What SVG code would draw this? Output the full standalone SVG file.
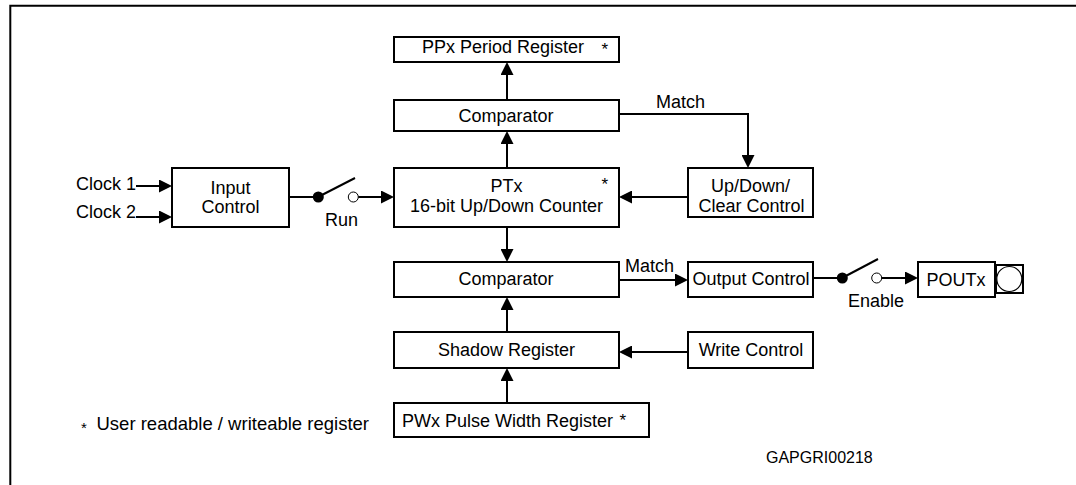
<svg xmlns="http://www.w3.org/2000/svg" width="1076" height="485" viewBox="0 0 1076 485">
<defs>
<style>
.box{fill:#fff;stroke:#000;stroke-width:2}
.ln{fill:none;stroke:#000;stroke-width:2}
.t{font-family:"Liberation Sans",Arial,sans-serif;font-size:18px;fill:#000}
.c{text-anchor:middle}
.s{font-family:"Liberation Sans",Arial,sans-serif;font-size:17px;fill:#000}
</style>
<marker id="ah" markerUnits="userSpaceOnUse" markerWidth="13" markerHeight="13" refX="9" refY="6.5" orient="auto">
<path d="M0,0 L13,6.5 L0,13 z" fill="#000"/>
</marker>
</defs>
<rect width="1076" height="485" fill="#fff"/>
<path d="M10.3,485 V5.7 H1076" fill="none" stroke="#000" stroke-width="2"/>

<g id="connectors">
<path class="ln" d="M507,100 V66" marker-end="url(#ah)"/>
<path class="ln" d="M507,168 V135" marker-end="url(#ah)"/>
<path class="ln" d="M619,114 H748 V164" marker-end="url(#ah)"/>
<path class="ln" d="M688,197 H623" marker-end="url(#ah)"/>
<path class="ln" d="M136,186 H168" marker-end="url(#ah)"/>
<path class="ln" d="M136,217 H168" marker-end="url(#ah)"/>
<path class="ln" d="M289,197 H318"/>
<path class="ln" d="M318,197 L355,178" stroke-width="2.5"/>
<circle cx="318.3" cy="197" r="5.5" fill="#000"/>
<circle cx="353.3" cy="197" r="5" fill="#fff" stroke="#000" stroke-width="1"/>
<path class="ln" d="M358.3,197 H390" marker-end="url(#ah)"/>
<path class="ln" d="M507,227 V258" marker-end="url(#ah)"/>
<path class="ln" d="M619,280 H684" marker-end="url(#ah)"/>
<path class="ln" d="M813,278 H842"/>
<path class="ln" d="M842,278 L878,259" stroke-width="2.5"/>
<circle cx="842.3" cy="278" r="5.5" fill="#000"/>
<circle cx="876.7" cy="278" r="5" fill="#fff" stroke="#000" stroke-width="1"/>
<path class="ln" d="M881.7,278 H914" marker-end="url(#ah)"/>
<path class="ln" d="M507,332 V301" marker-end="url(#ah)"/>
<path class="ln" d="M688,352 H623" marker-end="url(#ah)"/>
<path class="ln" d="M507,403 V372" marker-end="url(#ah)"/>
<text class="t" x="656" y="107.5">Match</text>
<text class="t" x="625" y="271.5">Match</text>
<text class="t c" x="341.5" y="226">Run</text>
<text class="t c" x="876" y="306.5">Enable</text>
</g>

<g id="clock1"><text class="t" x="76" y="190">Clock 1</text></g>
<g id="clock2"><text class="t" x="76" y="218">Clock 2</text></g>

<g id="ppx">
<rect class="box" x="394" y="37" width="225" height="25"/>
<text class="t" x="422" y="52.5">PPx Period Register</text>
<text class="s" x="601.5" y="55">*</text>
</g>

<g id="comparator1">
<rect class="box" x="394" y="100" width="225" height="31"/>
<text class="t c" x="506" y="121.5">Comparator</text>
</g>

<g id="input-control">
<rect class="box" x="172" y="168" width="117" height="59"/>
<text class="t c" x="230.5" y="194">Input</text>
<text class="t c" x="230.5" y="213">Control</text>
</g>

<g id="ptx">
<rect class="box" x="394" y="168" width="225" height="59"/>
<text class="t c" x="506.5" y="192">PTx</text>
<text class="t c" x="506.5" y="212">16-bit Up/Down Counter</text>
<text class="s" x="601.5" y="189.5">*</text>
</g>

<g id="updown">
<rect class="box" x="688" y="168" width="125" height="49"/>
<text class="t c" x="750.5" y="192">Up/Down/</text>
<text class="t c" x="751.5" y="211.5">Clear Control</text>
</g>

<g id="comparator2">
<rect class="box" x="394" y="262" width="225" height="35"/>
<text class="t c" x="506" y="285">Comparator</text>
</g>

<g id="output-control">
<rect class="box" x="688" y="262" width="125" height="35"/>
<text class="t c" x="751" y="285">Output Control</text>
</g>

<g id="poutx">
<rect class="box" x="918" y="262" width="77" height="35"/>
<text class="t c" x="956" y="286">POUTx</text>
</g>

<g id="pin">
<rect class="box" x="996" y="265" width="27" height="28"/>
<circle cx="1009.3" cy="279" r="12.5" fill="#fff" stroke="#000" stroke-width="1.2"/>
</g>

<g id="shadow">
<rect class="box" x="394" y="332" width="225" height="36"/>
<text class="t c" x="506.5" y="356">Shadow Register</text>
</g>

<g id="write-control">
<rect class="box" x="688" y="332" width="125" height="36"/>
<text class="t c" x="751" y="356">Write Control</text>
</g>

<g id="pwx">
<rect class="box" x="394" y="403" width="255" height="34"/>
<text class="t" x="402" y="426.5">PWx Pulse Width Register</text>
<text class="s" x="619.5" y="426">*</text>
</g>

<g id="footnote">
<text class="s" x="81" y="432.5" style="font-size:15px">*</text>
<text class="t" x="96.5" y="429.5" style="font-size:18.5px">User readable / writeable register</text>
</g>

<g id="figure-id">
<text class="t" x="766" y="463" style="font-size:16px">GAPGRI00218</text>
</g>
</svg>
